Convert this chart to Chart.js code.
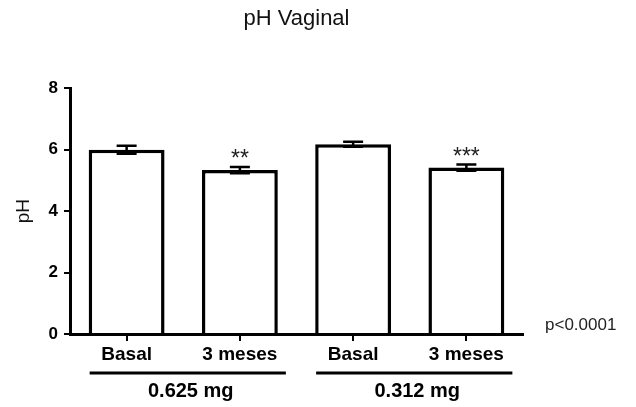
<!DOCTYPE html>
<html>
<head>
<meta charset="utf-8">
<script src="https://cdn.jsdelivr.net/npm/chart.js@4/dist/chart.umd.min.js"></script>
<style>
  html, body { margin: 0; padding: 0; background: #fff; }
</style>
</head>
<body>
<canvas id="graph--ph" width="636" height="407"></canvas>
<script>
const LABELS = ["Basal", "3 meses", "Basal", "3 meses"];
const PH_MEAN = [6.0, 5.34, 6.18, 5.42];
const PH_SEM = [0.13, 0.10, 0.08, 0.10];
const STARS = ["", "**", "", "***"];
const GROUPS = ["0.625 mg", "0.312 mg"];
const GROUP_BARS = [[0, 1], [2, 3]];
const P_TEXT = "p<0.0001";

const FONT = "'Liberation Sans', Arial, sans-serif";
const PH = document.getElementById("graph--ph");

// error bars + significance stars
const errorBars = {
  id: "errorBars",
  afterDatasetsDraw(chart) {
    const ctx = chart.ctx;
    const y = chart.scales.y;
    const meta = chart.getDatasetMeta(0);
    ctx.save();
    ctx.strokeStyle = "#000";
    ctx.lineWidth = 2.5;
    meta.data.forEach((bar, i) => {
      const top = y.getPixelForValue(PH_MEAN[i] + PH_SEM[i]);
      const bot = y.getPixelForValue(PH_MEAN[i] - PH_SEM[i]);
      ctx.beginPath();
      ctx.moveTo(bar.x, top); ctx.lineTo(bar.x, bot);
      ctx.moveTo(bar.x - 10, top); ctx.lineTo(bar.x + 10, top);
      ctx.moveTo(bar.x - 10, bot); ctx.lineTo(bar.x + 10, bot);
      ctx.stroke();
      if (STARS[i]) {
        ctx.fillStyle = "#222";
        ctx.font = "23px " + FONT;
        ctx.textAlign = "center";
        ctx.textBaseline = "alphabetic";
        ctx.fillText(STARS[i], bar.x, top - 1);
      }
    });
    ctx.restore();
  }
};

// group underlines, group names, p value
const groupLabels = {
  id: "groupLabels",
  afterDraw(chart) {
    const ctx = chart.ctx;
    const x = chart.scales.x;
    const area = chart.chartArea;
    ctx.save();
    ctx.strokeStyle = "#000";
    ctx.lineWidth = 3;
    ctx.fillStyle = "#000";
    ctx.font = "bold 20px " + FONT;
    ctx.textAlign = "center";
    ctx.textBaseline = "middle";
    GROUP_BARS.forEach((g, k) => {
      const x0 = x.getPixelForValue(g[0]) - 37;
      const x1 = x.getPixelForValue(g[1]) + 46;
      const ly = x.top + 39;
      ctx.beginPath();
      ctx.moveTo(x0, ly); ctx.lineTo(x1, ly);
      ctx.stroke();
      ctx.fillText(GROUPS[k], (x0 + x1) / 2 + 3, x.top + 57);
    });
    ctx.font = "17px " + FONT;
    ctx.textAlign = "left";
    ctx.fillStyle = "#222";
    ctx.fillText(P_TEXT, area.right + 22, area.bottom - 9);
    ctx.restore();
  }
};

let phChart = new Chart(PH, {
  type: "bar",
  data: {
    labels: LABELS,
    datasets: [{
      label: "pH",
      data: PH_MEAN,
      backgroundColor: "#fff",
      borderColor: "#000",
      borderWidth: 3.5,
      barPercentage: 0.67,
      categoryPercentage: 1
    }]
  },
  options: {
    responsive: false,
    animation: false,
    devicePixelRatio: 1,
    layout: { padding: { top: 0, left: 0, right: 113, bottom: 0 } },
    plugins: {
      legend: { display: false },
      tooltip: { enabled: false },
      title: {
        display: true,
        text: "pH Vaginal",
        fullSize: false,
        color: "#111",
        font: { family: FONT, size: 22, weight: "normal" },
        padding: { top: 6, bottom: 56 }
      }
    },
    scales: {
      x: {
        grid: { display: true, drawOnChartArea: false, offset: false, tickLength: 7, color: "#000", lineWidth: 2 },
        border: { display: true, color: "#000", width: 3 },
        ticks: { color: "#000", padding: 2, maxRotation: 0, font: { family: FONT, size: 19, weight: "bold" } },
        afterFit: s => { s.height = 73; }
      },
      y: {
        min: 0,
        max: 8,
        grid: { display: true, drawOnChartArea: false, tickLength: 6, color: "#000", lineWidth: 2 },
        border: { display: true, color: "#000", width: 3 },
        ticks: { stepSize: 2, color: "#000", padding: 6, font: { family: FONT, size: 17, weight: "bold" } },
        title: {
          display: true,
          text: "pH",
          color: "#111",
          font: { family: FONT, size: 19, weight: "normal" },
          padding: { top: 12, bottom: 0 }
        },
        afterFit: s => { s.width = 70; }
      }
    }
  },
  plugins: [errorBars, groupLabels]
});
</script>
</body>
</html>
